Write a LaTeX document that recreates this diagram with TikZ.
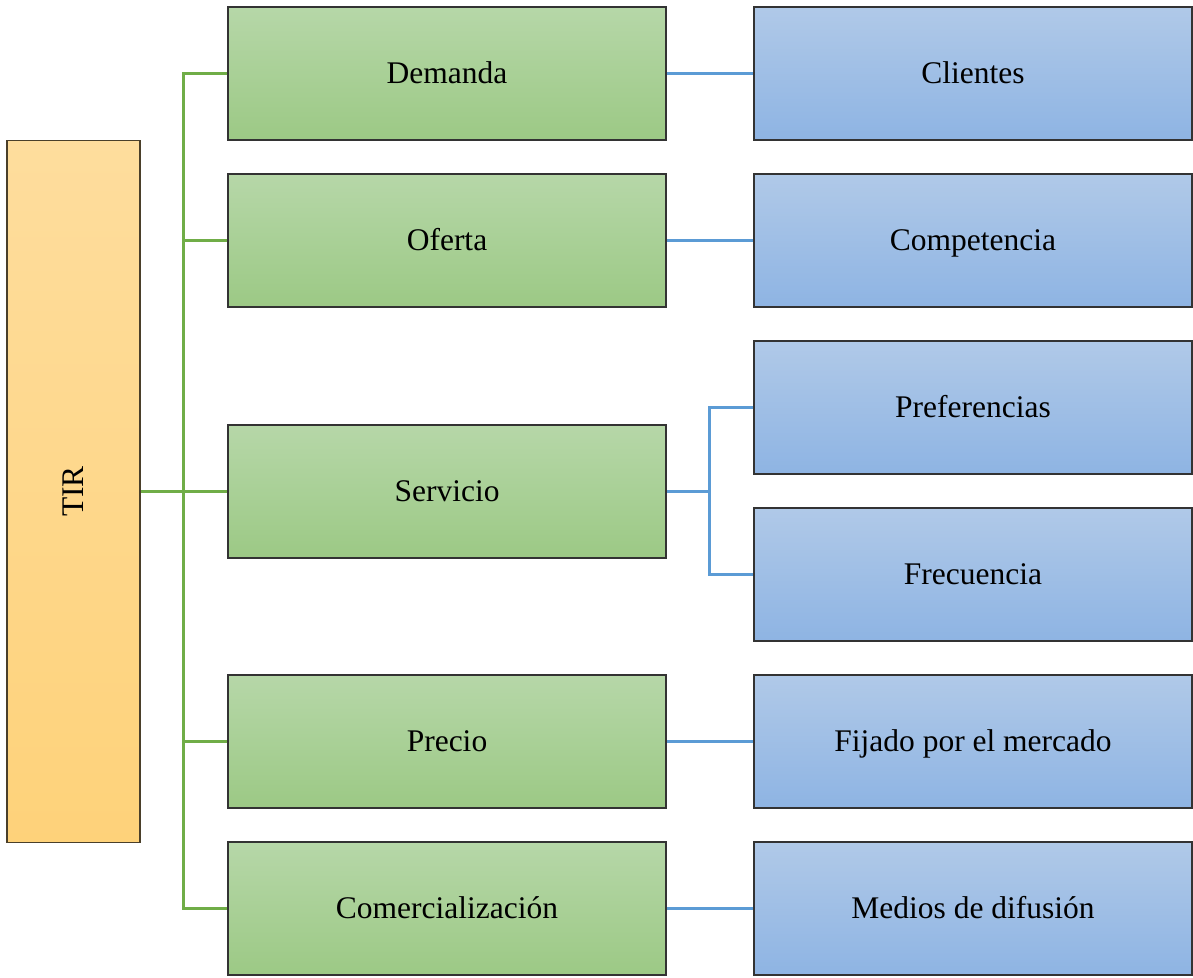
\documentclass[tikz,border=0pt]{standalone}
\usepackage{fontspec}
\setmainfont{Liberation Serif}
\definecolor{greenline}{HTML}{70AD47}
\definecolor{blueline}{HTML}{5B9BD5}
\definecolor{greentop}{HTML}{B6D7A8}
\definecolor{greenbot}{HTML}{9CC985}
\definecolor{bluetop}{HTML}{B0C9E8}
\definecolor{bluebot}{HTML}{8EB4E3}
\definecolor{goldtop}{HTML}{FEDD9D}
\definecolor{goldbot}{HTML}{FED27A}
\definecolor{edge}{HTML}{333333}
\definecolor{goldedge}{HTML}{4A3F2A}
\begin{document}
\begin{tikzpicture}[x=1pt,y=-1pt,
  every node/.style={font=\fontsize{31.5}{36}\selectfont},
  box/.style={draw=edge,line width=1.5pt,minimum width=438pt,minimum height=133pt,inner sep=0pt,
    text height=25pt,text depth=6pt},
  greenbox/.style={box,top color=greentop,bottom color=greenbot},
  bluebox/.style={box,top color=bluetop,bottom color=bluebot},
  goldbox/.style={draw=goldedge,line width=1.5pt,minimum width=133pt,minimum height=702pt,inner sep=0pt,
    top color=goldtop,bottom color=goldbot},
  glink/.style={draw=greenline,line width=3pt},
  blink/.style={draw=blueline,line width=3pt}]
\useasboundingbox (0,0) rectangle (1193,977);

% root
\node[goldbox] (tir) at (73.5,491.5) {};
\node[rotate=90] at (tir.center) {TIR};

% first level
\node[greenbox] (dem) at (447,73.5) {Demanda};
\node[greenbox] (ofe) at (447,240.5) {Oferta};
\node[greenbox] (ser) at (447,491.5) {Servicio};
\node[greenbox] (pre) at (447,741.5) {Precio};
\node[greenbox] (com) at (447,908.5) {Comercialización};

% second level
\node[bluebox] (cli) at (973,73.5) {Clientes};
\node[bluebox] (cmp) at (973,240.5) {Competencia};
\node[bluebox] (prf) at (973,407.5) {Preferencias};
\node[bluebox] (fre) at (973,574.5) {Frecuencia};
\node[bluebox] (fij) at (973,741.5) {Fijado por el mercado};
\node[bluebox] (med) at (973,908.5) {Medios de difusión};

% green tree
\coordinate (trunk) at (183,491.5);
\path[glink] (tir.east) -- (ser.west);
\path[glink] (dem.west) -- (dem.west -| trunk) -- (com.west -| trunk) -- (com.west);
\path[glink] (ofe.west) -- (ofe.west -| trunk);
\path[glink] (pre.west) -- (pre.west -| trunk);

% blue links
\coordinate (fork) at (709,491.5);
\path[blink] (dem.east) -- (cli.west);
\path[blink] (ofe.east) -- (cmp.west);
\path[blink] (ser.east) -- (ser.east -| fork);
\path[blink] (prf.west) -- (prf.west -| fork) -- (fre.west -| fork) -- (fre.west);
\path[blink] (pre.east) -- (fij.west);
\path[blink] (com.east) -- (med.west);
\end{tikzpicture}
\end{document}
